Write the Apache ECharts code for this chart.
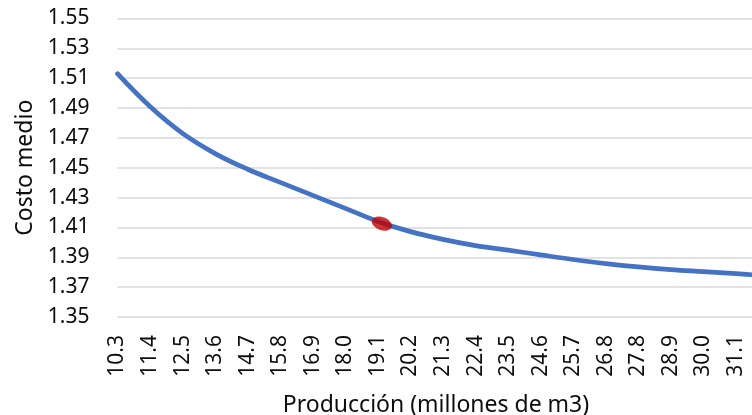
<!DOCTYPE html>
<html>
<head>
<meta charset="utf-8">
<script src="https://cdn.jsdelivr.net/npm/echarts@6/dist/echarts.min.js"></script>
<style>
  html, body { margin: 0; padding: 0; background: #fff; }
  #chart { width: 752px; height: 415px; }
</style>
</head>
<body>
<div id="chart"></div>
<script>
"use strict";

// produccion (millones de m3); the last one falls just outside the picture
const produccion = ['10.3', '11.4', '12.5', '13.6', '14.7', '15.8', '16.9', '18.0', '19.1', '20.2',
  '21.3', '22.4', '23.5', '24.6', '25.7', '26.8', '27.8', '28.9', '30.0', '31.1', '32.2'];
const costoMedio = [1.5130, 1.4910, 1.4730, 1.4595, 1.4490, 1.4402, 1.4315, 1.4228, 1.4140, 1.4072,
  1.4020, 1.3978, 1.3948, 1.3916, 1.3885, 1.3858, 1.3836, 1.3818, 1.3804, 1.3790, 1.3776];
// punto marcado en rojo
const puntoX = '19.1';
const puntoY = 1.4125;
const yTicks = { min: 1.35, max: 1.55, interval: 0.02 };

var chartElem = document.getElementById('chart');
var chart = echarts.init(chartElem);
var font = '"Noto Sans", "Open Sans", sans-serif';

chart.setOption({
  animation: false,
  grid: {
    left: 117.5,
    width: 651,
    top: 18.5,
    bottom: 98,
    containLabel: false,
    outerBoundsMode: 'none'
  },
  xAxis: {
    type: 'category',
    data: produccion,
    boundaryGap: false,
    name: 'Producción (millones de m3)',
    nameLocation: 'middle',
    nameGap: 77,
    nameTextStyle: {
      fontFamily: font,
      fontSize: 23,
      color: '#0d0d0d',
      padding: [0, 14, 0, 0]
    },
    axisLine: { show: false },
    axisTick: { show: false },
    splitLine: { show: false },
    axisLabel: {
      rotate: 90,
      interval: 0,
      margin: 18,
      fontFamily: font,
      fontSize: 21,
      color: '#0d0d0d'
    }
  },
  yAxis: {
    type: 'value',
    min: yTicks.min,
    max: yTicks.max,
    interval: yTicks.interval,
    name: 'Costo medio',
    nameLocation: 'middle',
    nameGap: 79,
    nameTextStyle: {
      fontFamily: font,
      fontSize: 23,
      color: '#0d0d0d'
    },
    axisLine: { show: false },
    axisTick: { show: false },
    splitLine: {
      show: true,
      lineStyle: { color: '#d9d9d9', width: 1.5 }
    },
    axisLabel: {
      margin: 28,
      fontFamily: font,
      fontSize: 21,
      color: '#0d0d0d',
      formatter: function (v) { return v.toFixed(2); }
    }
  },
  series: [
    {
      name: 'Costo medio',
      type: 'line',
      data: costoMedio,
      smooth: 0.4,
      showSymbol: false,
      lineStyle: { color: '#4472c4', width: 4.7, cap: 'round' },
      z: 2
    },
    {
      name: 'Punto',
      type: 'scatter',
      data: [[puntoX, puntoY]],
      symbol: 'circle',
      symbolSize: [21, 13],
      symbolRotate: -20,
      symbolOffset: [4, 0],
      itemStyle: { color: '#c00000' },
      z: 3
    }
  ]
});
</script>
</body>
</html>
